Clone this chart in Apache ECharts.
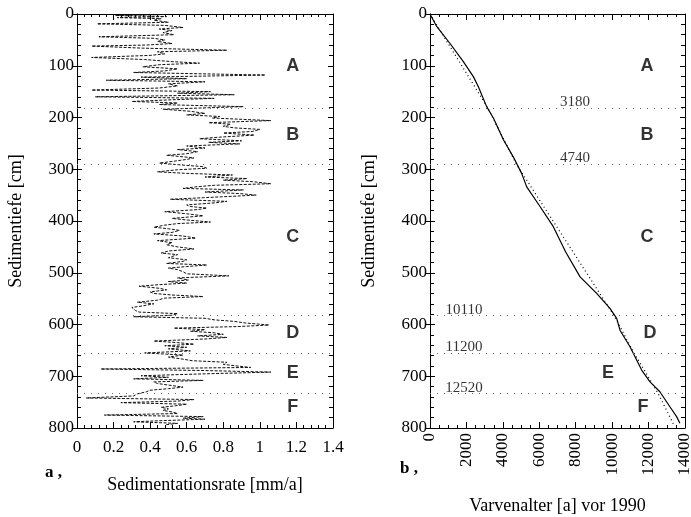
<!DOCTYPE html>
<html>
<head>
<meta charset="utf-8">
<script src="https://cdn.jsdelivr.net/npm/echarts@6/dist/echarts.min.js"></script>
<style>
html,body{margin:0;padding:0;background:#fff;}
#chart{width:691px;height:517px;}
</style>
</head>
<body>
<div id="chart"></div>
<script>
// ---- Data ----
// Panel a: sedimentation rate [mm/a] vs depth [cm]
const depthA = [1,3,5,7,9,12,16,19,22,26,29,32,36,40,44,47,50,53,57,60,62,66,70,73,77,80,84,88,92,95,98,102,106,110,113,118,122,125,128,131,135,139,143,147,150,153,156,160,163,166,169,172,175,179,184,188,192,195,198,201,206,210,213,217,220,223,227,230,234,238,241,245,248,251,255,259,262,266,270,273,278,281,284,288,292,295,298,301,305,308,311,315,318,321,324,328,331,334,337,340,344,347,350,355,358,362,365,369,372,375,378,382,386,390,395,398,402,405,408,412,415,418,422,425,429,433,438,442,446,450,454,458,462,465,468,471,475,478,482,485,488,491,494,498,502,506,510,514,517,520,523,526,530,533,537,540,543,546,549,553,557,560,564,567,570,573,576,579,582,585,588,591,594,597,601,604,607,610,613,616,619,622,625,628,632,635,638,641,644,647,651,655,659,663,667,670,673,677,680,683,686,689,692,695,699,702,705,708,711,714,717,721,724,727,730,734,738,742,745,748,751,754,757,760,763,766,769,772,775,778,781,783,786,788,791,794];
const rateA  = [0.48,0.21,0.49,0.22,0.46,0.42,0.50,0.11,0.48,0.58,0.45,0.52,0.47,0.53,0.12,0.42,0.48,0.44,0.52,0.38,0.08,0.36,0.82,0.44,0.48,0.40,0.08,0.37,0.52,0.67,0.45,0.36,0.55,0.48,0.31,1.03,0.35,0.60,0.16,0.70,0.50,0.55,0.45,0.08,0.73,0.55,0.86,0.10,0.75,0.50,0.30,0.55,0.45,0.91,0.47,0.62,0.70,0.60,0.78,0.74,1.06,0.72,0.84,0.80,0.86,1.00,0.96,0.80,0.97,0.78,0.67,0.90,0.72,0.89,0.60,0.70,0.55,0.66,0.60,0.49,0.64,0.60,0.54,0.45,0.58,0.69,0.71,0.55,0.44,0.60,0.85,0.70,0.93,0.80,0.96,1.06,0.75,0.65,0.58,0.91,0.70,0.89,0.98,0.69,0.51,0.82,0.75,0.60,0.62,0.71,0.66,0.48,0.60,0.69,0.52,0.60,0.73,0.55,0.48,0.42,0.50,0.56,0.52,0.42,0.58,0.65,0.44,0.52,0.49,0.55,0.64,0.50,0.46,0.55,0.54,0.50,0.60,0.58,0.49,0.71,0.60,0.50,0.55,0.58,0.60,0.83,0.55,0.61,0.50,0.60,0.45,0.34,0.45,0.49,0.40,0.42,0.52,0.69,0.48,0.44,0.33,0.42,0.36,0.30,0.29,0.32,0.34,0.55,0.52,0.31,0.70,0.75,0.86,0.92,1.05,0.88,0.53,0.70,0.62,0.75,0.80,0.66,0.82,0.70,0.42,0.55,0.64,0.48,0.60,0.50,0.62,0.37,0.58,0.50,0.58,0.63,0.82,0.80,0.87,0.95,0.13,0.70,1.06,0.73,0.35,0.50,0.31,0.69,0.42,0.44,0.50,0.58,0.50,0.40,0.38,0.33,0.31,0.05,0.64,0.55,0.24,0.60,0.54,0.46,0.50,0.47,0.52,0.55,0.15,0.69,0.58,0.70,0.45,0.31,0.55,0.48];

// Panel b: varve age [a] vs depth [cm]
const ageSolid   = [0,366,1100,1830,2380,2650,3110,3480,4030,4570,5030,5310,6040,6770,7450,8240,9150,9880,10250,10430,10980,11250,11620,12080,12620,13170,13540,13720];
const depthSolid = [0,24,57,92,121,140,179,201,243,276,308,334,372,411,460,508,540,569,588,611,643,662,688,711,730,759,778,791];
const ageModel   = [0,3180,4740,10110,11200,12520,13400];
const depthModel = [0,182,290,583,655,733,795];

// Zone boundaries
const boundaryDepths = [182,290,583,655,733];
const boundaryAges   = [3180,4740,10110,11200,12520];

// Zone letters
const zoneLetters = ['A','B','C','D','E','F'];
const zoneDepths  = [100,234,431,617,694,760];

// Tick labels
const xTicksA = [0,0.2,0.4,0.6,0.8,1,1.2,1.4];
const xTicksB = [0,2000,4000,6000,8000,10000,12000,14000];
const yTicks  = [0,100,200,300,400,500,600,700,800];

// ---- Layout (positions in data units, not data) ----
const letterXA = [1.18,1.18,1.18,1.18,1.18,1.18];
const letterXB = [11910,11910,11910,12080,9770,11690];
const bLabelX  = [7960,7960,1870,1870,1870];
const bLabelDY = -11;

const SERIF = "'Liberation Serif','Times New Roman',serif";
const SANS = "'Liberation Sans',Arial,sans-serif";

const chart = echarts.init(document.getElementById('chart'));

function xAx(grid, min, max, interval, split, pos, show, extra) {
  return Object.assign({
    type: 'value', gridIndex: grid, min: min, max: max, interval: interval, position: pos,
    axisLine: {show: true, onZero: false, lineStyle: {color: '#000', width: 1}},
    axisTick: {show: true, inside: true, length: 6, lineStyle: {color: '#000'}},
    minorTick: {show: true, splitNumber: split, length: 3, lineStyle: {color: '#000'}},
    splitLine: {show: false},
    axisLabel: {show: show, color: '#000', fontFamily: SERIF, fontSize: 17, margin: 9}
  }, extra || {});
}
function yAx(grid, pos, show, inside, minor, len, extra) {
  return Object.assign({
    type: 'value', gridIndex: grid, min: 0, max: 800, interval: 100, inverse: true, position: pos,
    axisLine: {show: true, onZero: false, lineStyle: {color: '#000', width: 1}},
    axisTick: {show: true, inside: inside, length: len, lineStyle: {color: '#000'}},
    minorTick: {show: minor, splitNumber: 5, length: 4, lineStyle: {color: '#000'}},
    splitLine: {show: false},
    axisLabel: {show: show, color: '#000', fontFamily: SERIF, fontSize: 17, margin: 3}
  }, extra || {});
}

const yName = {
  name: 'Sedimentiefe [cm]', nameLocation: 'middle', nameGap: 52,
  nameTextStyle: {color: '#000', fontFamily: SERIF, fontSize: 18}
};

const option = {
  animation: false,
  backgroundColor: '#fff',
  grid: [
    {left: 77, top: 14, width: 256, height: 414, containLabel: false, outerBoundsMode: 'none'},
    {left: 430, top: 14, width: 255, height: 414, containLabel: false, outerBoundsMode: 'none'}
  ],
  xAxis: [
    xAx(0, 0, 1.4, 0.2, 5, 'bottom', true, {
      name: 'Sedimentationsrate [mm/a]', nameLocation: 'middle', nameGap: 48,
      nameTextStyle: {color: '#000', fontFamily: SERIF, fontSize: 18},
      axisLabel: {show: true, color: '#000', fontFamily: SERIF, fontSize: 17, margin: 11,
        formatter: v => xTicksA.includes(+v.toFixed(1)) ? String(+v.toFixed(1)) : ''}
    }),
    xAx(0, 0, 1.4, 0.2, 5, 'top', false),
    xAx(1, 0, 14000, 2000, 4, 'bottom', true, {
      name: 'Varvenalter [a] vor 1990', nameLocation: 'middle', nameGap: 69,
      nameTextStyle: {color: '#000', fontFamily: SERIF, fontSize: 18},
      axisLabel: {show: true, color: '#000', fontFamily: SERIF, fontSize: 17, margin: 5, rotate: 90,
        formatter: v => xTicksB.includes(v) ? String(v) : ''}
    }),
    xAx(1, 0, 14000, 2000, 4, 'top', false)
  ],
  yAxis: [
    yAx(0, 'left', true, false, false, 5, Object.assign({}, yName, {
      axisLabel: {show: true, color: '#000', fontFamily: SERIF, fontSize: 17, margin: 3,
        formatter: v => yTicks.includes(v) ? String(v) : ''}})),
    yAx(0, 'left', false, true, true, 5),
    yAx(0, 'right', false, true, true, 5),
    yAx(1, 'left', true, false, false, 5, Object.assign({}, yName, {
      axisLabel: {show: true, color: '#000', fontFamily: SERIF, fontSize: 17, margin: 3,
        formatter: v => yTicks.includes(v) ? String(v) : ''}})),
    yAx(1, 'left', false, true, true, 5),
    yAx(1, 'right', false, true, true, 5)
  ],
  graphic: [
    {type: 'text', left: 45, top: 464, style: {text: 'a ,', font: "bold 17px 'Liberation Serif', serif", fill: '#000'}},
    {type: 'text', left: 400, top: 460, style: {text: 'b ,', font: "bold 17px 'Liberation Serif', serif", fill: '#000'}}
  ],
  series: [
    {
      type: 'line', xAxisIndex: 0, yAxisIndex: 0, showSymbol: false, symbol: 'none',
      data: depthA.map((d, i) => [rateA[i], d]),
      lineStyle: {color: '#111', width: 1, type: [3, 1.5]},
      z: 3,
      markLine: {
        silent: true, symbol: 'none', label: {show: false},
        lineStyle: {color: '#666', width: 1, type: [1, 6]},
        data: boundaryDepths.map(d => ({yAxis: d}))
      }
    },
    {
      type: 'line', xAxisIndex: 2, yAxisIndex: 3, showSymbol: false, symbol: 'none',
      data: depthSolid.map((d, i) => [ageSolid[i], d]),
      lineStyle: {color: '#000', width: 1.2},
      markLine: {
        silent: true, symbol: 'none', label: {show: false},
        lineStyle: {color: '#666', width: 1, type: [1, 6]},
        data: boundaryDepths.map(d => ({yAxis: d}))
      }
    },
    {
      type: 'line', xAxisIndex: 2, yAxisIndex: 3, showSymbol: false, symbol: 'none',
      data: depthModel.map((d, i) => [ageModel[i], d]),
      lineStyle: {color: '#000', width: 1.2, type: [1, 3]}
    },
    {
      type: 'scatter', xAxisIndex: 0, yAxisIndex: 0, symbolSize: 0,
      data: zoneLetters.map((l, i) => [letterXA[i], zoneDepths[i], l]),
      label: {show: true, position: 'inside', formatter: p => p.data[2],
        color: '#000', fontFamily: SANS, fontWeight: 'bold', fontSize: 18}
    },
    {
      type: 'scatter', xAxisIndex: 2, yAxisIndex: 3, symbolSize: 0,
      data: zoneLetters.map((l, i) => [letterXB[i], zoneDepths[i], l]),
      label: {show: true, position: 'inside', formatter: p => p.data[2],
        color: '#000', fontFamily: SANS, fontWeight: 'bold', fontSize: 18}
    },
    {
      type: 'scatter', xAxisIndex: 2, yAxisIndex: 3, symbolSize: 0,
      data: boundaryAges.map((a, i) => [bLabelX[i], boundaryDepths[i] + bLabelDY, a]),
      label: {show: true, position: 'inside', formatter: p => String(p.data[2]),
        color: '#000', fontFamily: SERIF, fontSize: 15}
    }
  ]
};
chart.setOption(option);
</script>
</body>
</html>
